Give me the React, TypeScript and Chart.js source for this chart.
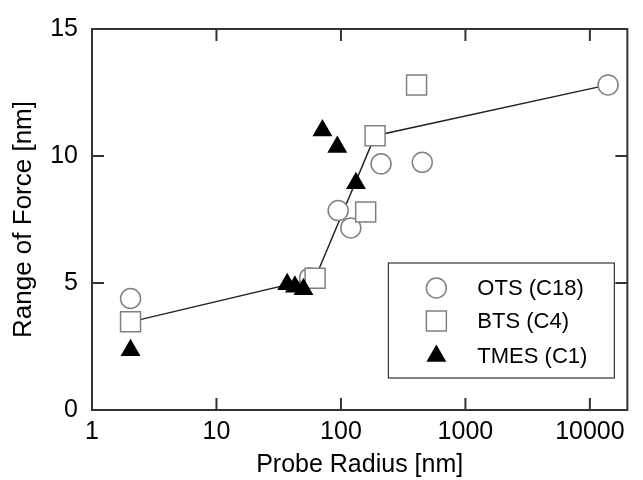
import React, { useEffect, useRef } from 'react';
import { Chart, registerables } from 'chart.js';

Chart.register(...registerables);

// ---- data ----
const xTickValues = [1, 10, 100, 1000, 10000];
const xTickLabels = ['1', '10', '100', '1000', '10000'];
const yTickValues = [0, 5, 10, 15];

const seriesNames = ['OTS (C18)', 'BTS (C4)', 'TMES (C1)'];

const otsRadius = [2.04, 56, 95, 120, 210, 450, 14000];
const otsRange = [4.39, 5.2, 7.85, 7.17, 9.69, 9.75, 12.8];

const btsRadius = [2.04, 62, 158, 188, 405];
const btsRange = [3.47, 5.19, 7.8, 10.8, 12.8];

const tmesRadius = [2.04, 37, 42.7, 50, 71, 93.5, 132];
const tmesRange = [2.35, 4.95, 4.85, 4.75, 11.0, 10.35, 8.93];

const guideRadius = [2.04, 62, 188, 14000];
const guideRange = [3.47, 5.19, 10.8, 12.8];

const FONT = "'Liberation Sans', Arial, sans-serif";
const GRAY = '#808080';

const toPoints = (xs: number[], ys: number[]) => xs.map((x, i) => ({ x, y: ys[i] }));

const framePlugin = {
  id: 'frameTicks',
  afterDatasetsDraw(chart: any) {
    const { ctx, chartArea: a, scales } = chart;
    ctx.save();
    ctx.strokeStyle = '#333';
    ctx.lineWidth = 2;
    ctx.strokeRect(a.left, a.top, a.right - a.left, a.bottom - a.top);
    const L = 12;
    ctx.beginPath();
    xTickValues.forEach((v) => {
      const x = scales.x.getPixelForValue(v);
      ctx.moveTo(x, a.bottom);
      ctx.lineTo(x, a.bottom - L);
      ctx.moveTo(x, a.top);
      ctx.lineTo(x, a.top + L);
    });
    yTickValues.forEach((v) => {
      const y = scales.y.getPixelForValue(v);
      ctx.moveTo(a.left, y);
      ctx.lineTo(a.left + L, y);
      ctx.moveTo(a.right, y);
      ctx.lineTo(a.right - L, y);
    });
    ctx.stroke();
    ctx.restore();
  },
};

const legendPlugin = {
  id: 'boxLegend',
  afterDraw(chart: any) {
    const { ctx, chartArea: a } = chart;
    const right = a.right - 13;
    const bottom = a.bottom - 32;
    const w = 226;
    const h = 115;
    const left = right - w;
    const top = bottom - h;
    ctx.save();
    ctx.fillStyle = '#fff';
    ctx.fillRect(left, top, w, h);
    ctx.strokeStyle = '#333';
    ctx.lineWidth = 1.2;
    ctx.strokeRect(left, top, w, h);
    const rows = [top + 25, top + 58, top + 93];
    const mx = left + 48;
    ctx.lineWidth = 1.5;
    ctx.strokeStyle = GRAY;
    ctx.fillStyle = '#fff';
    ctx.beginPath();
    ctx.arc(mx, rows[0], 10, 0, Math.PI * 2);
    ctx.fill();
    ctx.stroke();
    ctx.beginPath();
    ctx.rect(mx - 10, rows[1] - 10, 20, 20);
    ctx.fill();
    ctx.stroke();
    const r = 11.5;
    ctx.fillStyle = '#000';
    ctx.beginPath();
    ctx.moveTo(mx, rows[2] - r);
    ctx.lineTo(mx + r * Math.sin((2 * Math.PI) / 3), rows[2] + r / 2);
    ctx.lineTo(mx - r * Math.sin((2 * Math.PI) / 3), rows[2] + r / 2);
    ctx.closePath();
    ctx.fill();
    ctx.fillStyle = '#000';
    ctx.font = `22px ${FONT}`;
    ctx.textBaseline = 'middle';
    ctx.textAlign = 'left';
    seriesNames.forEach((name, i) => {
      ctx.fillText(name, left + 89, rows[i] + 1);
    });
    ctx.restore();
  },
};

export default function App() {
  const ref = useRef<HTMLCanvasElement | null>(null);

  useEffect(() => {
    document.body.style.margin = '0';
    document.body.style.overflow = 'hidden';
    const canvas = ref.current;
    if (!canvas) return;
    const chart = new Chart(canvas, {
      type: 'scatter',
      data: {
        datasets: [
          {
            label: 'guide',
            data: toPoints(guideRadius, guideRange),
            showLine: true,
            borderColor: '#222',
            borderWidth: 1.5,
            pointRadius: 0,
            fill: false,
            order: 4,
          } as any,
          {
            label: seriesNames[0],
            data: toPoints(otsRadius, otsRange),
            pointStyle: 'circle',
            pointRadius: 10,
            pointBorderWidth: 1.5,
            pointBorderColor: GRAY,
            pointBackgroundColor: '#fff',
            borderColor: GRAY,
            backgroundColor: '#fff',
            order: 3,
          },
          {
            label: seriesNames[1],
            data: toPoints(btsRadius, btsRange),
            pointStyle: 'rect',
            pointRadius: 14.14,
            pointBorderWidth: 1.5,
            pointBorderColor: GRAY,
            pointBackgroundColor: '#fff',
            borderColor: GRAY,
            backgroundColor: '#fff',
            order: 2,
          },
          {
            label: seriesNames[2],
            data: toPoints(tmesRadius, tmesRange),
            pointStyle: 'triangle',
            pointRadius: 11.5,
            pointBorderWidth: 0,
            pointBorderColor: '#000',
            pointBackgroundColor: '#000',
            borderColor: '#000',
            backgroundColor: '#000',
            order: 1,
          },
        ],
      },
      options: {
        responsive: false,
        animation: false,
        devicePixelRatio: 1,
        layout: { padding: { top: 28, right: 1, left: 0, bottom: 0 } },
        plugins: {
          legend: { display: false },
          tooltip: { enabled: false },
        },
        scales: {
          x: {
            type: 'logarithmic',
            min: 1,
            max: 20000,
            grid: { display: false, drawTicks: false },
            border: { display: false },
            afterBuildTicks: (scale: any) => {
              scale.ticks = xTickValues.map((value) => ({ value, major: true }));
            },
            afterFit: (scale: any) => {
              scale.height = 70;
            },
            ticks: {
              autoSkip: false,
              maxRotation: 0,
              padding: 7,
              color: '#000',
              font: { family: FONT, size: 25 },
              callback: (value: any) => {
                const i = xTickValues.indexOf(Number(value));
                return i >= 0 ? xTickLabels[i] : '';
              },
            },
            title: {
              display: true,
              text: 'Probe Radius [nm]',
              color: '#000',
              font: { family: FONT, size: 25 },
              padding: { top: 0, bottom: 0 },
            },
          },
          y: {
            type: 'linear',
            min: 0,
            max: 15,
            grid: { display: false, drawTicks: false },
            border: { display: false },
            afterBuildTicks: (scale: any) => {
              scale.ticks = yTickValues.map((value) => ({ value }));
            },
            afterFit: (scale: any) => {
              scale.width = 92;
            },
            ticks: {
              padding: 14,
              color: '#000',
              font: { family: FONT, size: 25 },
            },
            title: {
              display: true,
              text: 'Range of Force [nm]',
              color: '#000',
              font: { family: FONT, size: 26 },
              padding: { top: 8, bottom: 0 },
            },
          },
        },
      },
      plugins: [framePlugin, legendPlugin],
    });
    return () => chart.destroy();
  }, []);

  return (
    <canvas
      ref={ref}
      width={643}
      height={480}
      style={{ display: 'block', width: '643px', height: '480px' }}
    />
  );
}
